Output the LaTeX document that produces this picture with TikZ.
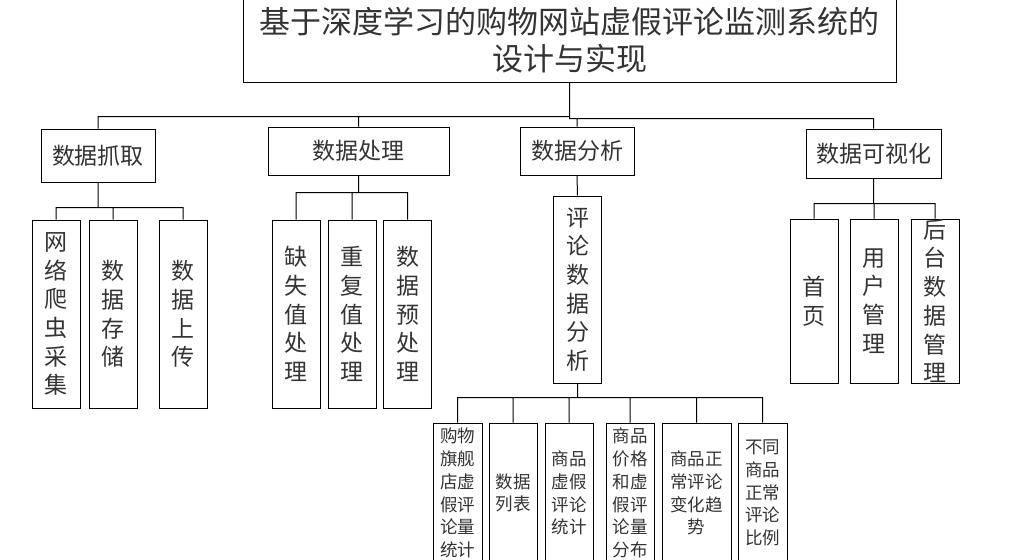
\documentclass[tikz,border=0pt]{standalone}
\usepackage{fontspec}
\newfontfamily\cjk{Noto Sans CJK SC}

\begin{document}
\begin{tikzpicture}[x=1pt, y=-1pt, line width=1pt,
    box/.style={draw, inner sep=0pt, align=center, text=black!80},
    top/.style={box, font=\cjk\fontsize{31}{37}\selectfont},
    mid/.style={box, font=\cjk\fontsize{23}{28}\selectfont},
    tall/.style={box, minimum width=48, font=\cjk\fontsize{23}{28.7}\selectfont},
    leaf/.style={box, minimum width=48, minimum height=140, font=\cjk\fontsize{17.5}{22.7}\selectfont}]
    \useasboundingbox (0,0) rectangle (1029,560);

    % title
    \node[top, minimum width=653, minimum height=84] (root) at (569.5,40)
        {基于深度学习的购物网站虚假评论监测系统的\\设计与实现};

    % modules
    \node[mid, minimum width=114, minimum height=53] (grab) at (98,155.5) {数据抓取};
    \node[mid, minimum width=181, minimum height=48] (proc) at (358.5,151) {数据处理};
    \node[mid, minimum width=114, minimum height=48] (anal) at (577,151) {数据分析};
    \node[mid, minimum width=135, minimum height=49] (vis) at (873.5,153.5) {数据可视化};

    % sub modules
    \node[tall, minimum height=188] (crawl) at (56,314) {网\\络\\爬\\虫\\采\\集};
    \node[tall, minimum height=188] (store) at (113,314) {数\\据\\存\\储};
    \node[tall, minimum height=188] (upload) at (183,314) {数\\据\\上\\传};
    \node[tall, minimum height=188] (miss) at (296,314) {缺\\失\\值\\处\\理};
    \node[tall, minimum height=188] (dup) at (352,314) {重\\复\\值\\处\\理};
    \node[tall, minimum height=188] (pre) at (407.5,314) {数\\据\\预\\处\\理};
    \node[tall, minimum height=187] (review) at (577.5,289.5) {评\\论\\数\\据\\分\\析};
    \node[tall, minimum height=164] (home) at (814,301) {首\\页};
    \node[tall, minimum height=164] (user) at (874,301) {用\\户\\管\\理};
    \node[tall, minimum height=164] (back) at (935,301) {后\\台\\数\\据\\管\\理};

    % analysis items
    \node[leaf, minimum width=49] (shop) at (457.5,493) {购物\\旗舰\\店虚\\假评\\论量\\统计};
    \node[leaf] (list) at (513,493) {数据\\列表};
    \node[leaf] (fake) at (569,493) {商品\\虚假\\评论\\统计};
    \node[leaf] (price) at (630,493) {商品\\价格\\和虚\\假评\\论量\\分布};
    \node[leaf, minimum width=69] (trend) at (696.5,493) {商品正\\常评论\\变化趋\\势};
    \node[leaf, minimum width=49] (ratio) at (762.5,493) {不同\\商品\\正常\\评论\\比例};

    \draw
    (root.south) -- ++(0,34) -| (grab.north)
    (root.south) -- ++(0,34) -| (proc.north)
    (root.south) -- ++(0,36) -| (anal.north)
    (root.south) -- ++(0,36) -| (vis.north)
    (grab.south) -- ++(0,25) -| (crawl.north)
    (grab.south) -- ++(0,25) -| (store.north)
    (grab.south) -- ++(0,25) -| (upload.north)
    (proc.south) -- ++(0,17) -| (miss.north)
    (proc.south) -- ++(0,17) -| (dup.north)
    (proc.south) -- ++(0,17) -| (pre.north)
    (anal.south) -- (review.north)
    (vis.south) -- ++(0,25) -| (home.north)
    (vis.south) -- ++(0,25) -| (user.north)
    (vis.south) -- ++(0,25) -| (back.north)
    (review.south) -- ++(0,14) -| (shop.north)
    (review.south) -- ++(0,14) -| (list.north)
    (review.south) -- ++(0,14) -| (fake.north)
    (review.south) -- ++(0,14) -| (price.north)
    (review.south) -- ++(0,14) -| (trend.north)
    (review.south) -- ++(0,14) -| (ratio.north);
\end{tikzpicture}
\end{document}
